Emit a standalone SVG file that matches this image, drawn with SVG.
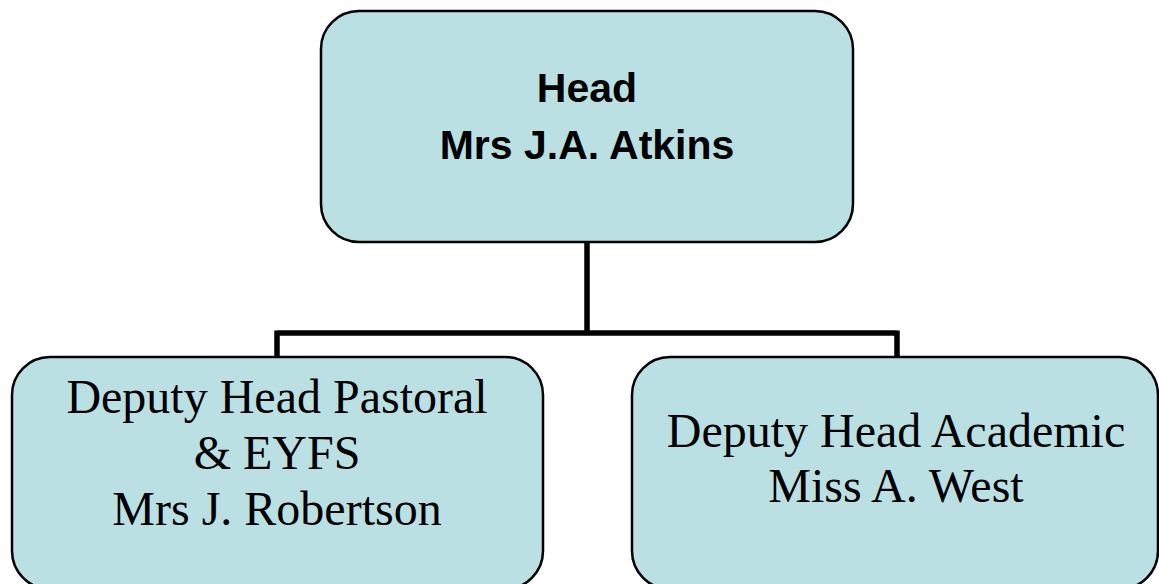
<svg xmlns="http://www.w3.org/2000/svg" width="1159" height="584" viewBox="0 0 1159 584">
<style>
.box{fill:#BAE0E3;stroke:#000;stroke-width:2.5}
.conn{fill:none;stroke:#000;stroke-width:5.5}
.h{font-family:"Liberation Sans",Arial,sans-serif;font-weight:bold;font-size:41px;text-anchor:middle;fill:#000}
.s{font-family:"Liberation Serif","Times New Roman",serif;font-size:48px;text-anchor:middle;fill:#000}
</style>
<rect width="1159" height="584" fill="#fff"/>
<g id="connectors">
<path class="conn" d="M587,242 V333 M277,333 H897 M277,330.5 V357 M897,330.5 V357"/>
</g>
<g id="head">
<rect class="box" x="321" y="11" width="532" height="231" rx="38" ry="38"/>
<text class="h" x="587" y="102">Head</text>
<text class="h" x="587" y="159">Mrs J.A. Atkins</text>
</g>
<g id="pastoral">
<rect class="box" x="12" y="357" width="531" height="232" rx="38" ry="38"/>
<text class="s" x="277" y="413">Deputy Head Pastoral</text>
<text class="s" x="277" y="469">&amp; EYFS</text>
<text class="s" x="277" y="525">Mrs J. Robertson</text>
</g>
<g id="academic">
<rect class="box" x="632" y="357" width="526" height="232" rx="38" ry="38"/>
<text class="s" x="896" y="447">Deputy Head Academic</text>
<text class="s" x="896" y="502">Miss A. West</text>
</g>
</svg>
